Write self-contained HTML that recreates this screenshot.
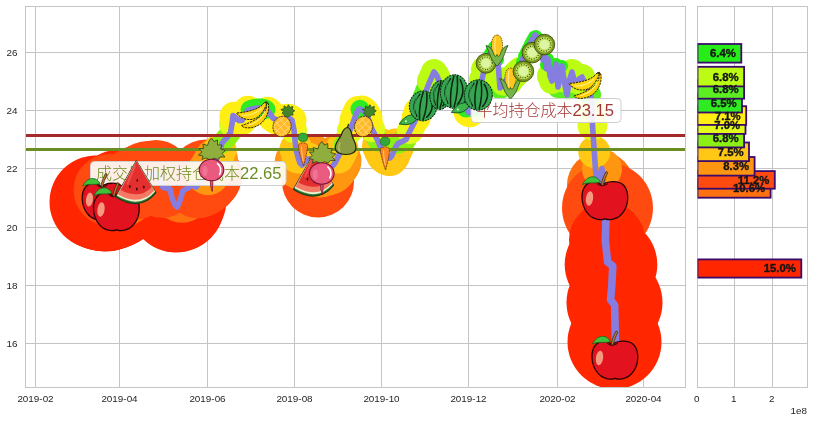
<!DOCTYPE html><html><head><meta charset="utf-8"><title>chart</title><style>html,body{margin:0;padding:0;background:#fff}svg{display:block}text{font-family:"Liberation Sans","Noto Sans CJK SC",sans-serif}</style></head><body>
<svg width="813" height="422" viewBox="0 0 813 422">
<rect width="813" height="422" fill="#fff"/>
<defs><clipPath id="ca"><rect x="25.5" y="6.5" width="660.0" height="381.0"/></clipPath></defs>
<path d="M35.5 6.5V387.5M119.5 6.5V387.5M207.5 6.5V387.5M294.5 6.5V387.5M381.5 6.5V387.5M468.5 6.5V387.5M557.5 6.5V387.5M643.5 6.5V387.5M25.5 343.5H685.5M25.5 285.5H685.5M25.5 227.5H685.5M25.5 168.5H685.5M25.5 110.5H685.5M25.5 52.5H685.5M734.5 6.5V387.5M772.5 6.5V387.5M697.5 343.5H807.5M697.5 285.5H807.5M697.5 227.5H807.5M697.5 168.5H807.5M697.5 110.5H807.5M697.5 52.5H807.5" stroke="#c4c4c4" stroke-width="1" fill="none" shape-rendering="crispEdges"/>
<g clip-path="url(#ca)">
<circle cx="96.0" cy="202.0" r="46.5" fill="#ff2600"/>
<circle cx="98.0" cy="203.0" r="46.5" fill="#ff2600"/>
<circle cx="100.0" cy="204.0" r="46.5" fill="#ff2600"/>
<circle cx="102.0" cy="204.3" r="46.5" fill="#ff2600"/>
<circle cx="104.0" cy="204.7" r="46.5" fill="#ff2600"/>
<circle cx="106.0" cy="205.0" r="46.5" fill="#ff2600"/>
<circle cx="108.0" cy="204.3" r="46.5" fill="#ff2600"/>
<circle cx="110.0" cy="203.7" r="46.5" fill="#ff2600"/>
<circle cx="112.0" cy="203.0" r="46.5" fill="#ff2600"/>
<circle cx="114.0" cy="202.2" r="46.5" fill="#ff2600"/>
<circle cx="116.0" cy="201.4" r="46.5" fill="#ff2600"/>
<circle cx="118.0" cy="199.3" r="46.5" fill="#ff2600"/>
<circle cx="120.0" cy="196.0" r="46.5" fill="#ff2600"/>
<circle cx="172.0" cy="198.0" r="46.5" fill="#ff2600"/>
<circle cx="174.0" cy="202.7" r="46.5" fill="#ff2600"/>
<circle cx="176.0" cy="206.0" r="46.5" fill="#ff2600"/>
<circle cx="178.0" cy="205.0" r="46.5" fill="#ff2600"/>
<circle cx="180.0" cy="200.0" r="46.5" fill="#ff2600"/>
<circle cx="611.0" cy="264.5" r="46.3" fill="#ff2600"/>
<circle cx="614.5" cy="302.5" r="48" fill="#ff2600"/>
<circle cx="614.5" cy="342.0" r="47" fill="#ff2600"/>
<circle cx="122.0" cy="194.0" r="33" fill="#ff7110"/>
<circle cx="124.0" cy="192.0" r="33" fill="#ff7110"/>
<circle cx="126.0" cy="190.2" r="33" fill="#ff7110"/>
<circle cx="128.0" cy="188.5" r="33" fill="#ff7110"/>
<circle cx="130.0" cy="186.8" r="33" fill="#ff7110"/>
<circle cx="132.0" cy="185.3" r="33" fill="#ff7110"/>
<circle cx="164.0" cy="187.7" r="29" fill="#ff7110"/>
<circle cx="166.0" cy="188.1" r="29" fill="#ff7110"/>
<circle cx="168.0" cy="188.6" r="29" fill="#ff7110"/>
<circle cx="170.0" cy="189.0" r="29" fill="#ff7110"/>
<circle cx="182.0" cy="193.8" r="29" fill="#ff7110"/>
<circle cx="184.0" cy="190.0" r="29" fill="#ff7110"/>
<circle cx="186.0" cy="189.0" r="29" fill="#ff7110"/>
<circle cx="188.0" cy="188.0" r="29" fill="#ff7110"/>
<circle cx="190.0" cy="186.5" r="29" fill="#ff7110"/>
<circle cx="192.0" cy="185.0" r="29" fill="#ff7110"/>
<circle cx="194.0" cy="186.0" r="29" fill="#ff7110"/>
<circle cx="196.0" cy="187.0" r="29" fill="#ff7110"/>
<circle cx="600.5" cy="185.0" r="33.5" fill="#ff7110"/>
<circle cx="114.0" cy="192.0" r="33" fill="#ff7110"/>
<circle cx="134.0" cy="184.0" r="36" fill="#ff4a10"/>
<circle cx="136.0" cy="182.7" r="36" fill="#ff4a10"/>
<circle cx="138.0" cy="181.6" r="36" fill="#ff4a10"/>
<circle cx="140.0" cy="180.7" r="36" fill="#ff4a10"/>
<circle cx="142.0" cy="179.9" r="36" fill="#ff4a10"/>
<circle cx="144.0" cy="179.0" r="36" fill="#ff4a10"/>
<circle cx="146.0" cy="178.0" r="36" fill="#ff4a10"/>
<circle cx="148.0" cy="177.0" r="36" fill="#ff4a10"/>
<circle cx="150.0" cy="176.0" r="34" fill="#ff4a10"/>
<circle cx="152.0" cy="175.3" r="34" fill="#ff4a10"/>
<circle cx="154.0" cy="174.7" r="34" fill="#ff4a10"/>
<circle cx="156.0" cy="174.0" r="34" fill="#ff4a10"/>
<circle cx="158.0" cy="176.4" r="34" fill="#ff4a10"/>
<circle cx="160.0" cy="178.8" r="34" fill="#ff4a10"/>
<circle cx="162.0" cy="183.8" r="34" fill="#ff4a10"/>
<circle cx="198.0" cy="184.3" r="34" fill="#ff4a10"/>
<circle cx="200.0" cy="182.0" r="34" fill="#ff4a10"/>
<circle cx="202.0" cy="180.0" r="36" fill="#ff4a10"/>
<circle cx="204.0" cy="178.0" r="36" fill="#ff4a10"/>
<circle cx="206.0" cy="175.6" r="36" fill="#ff4a10"/>
<circle cx="318.0" cy="181.5" r="36" fill="#ff4a10"/>
<circle cx="607.5" cy="208.0" r="45.5" fill="#ff4a10"/>
<circle cx="109.5" cy="190.0" r="36" fill="#ff4a10"/>
<circle cx="607.0" cy="240.0" r="38" fill="#ff2600"/>
<circle cx="208.0" cy="173.2" r="22" fill="#ff9612"/>
<circle cx="210.0" cy="170.5" r="22" fill="#ff9612"/>
<circle cx="212.0" cy="167.5" r="22" fill="#ff9612"/>
<circle cx="214.0" cy="164.0" r="22" fill="#ff9612"/>
<circle cx="216.0" cy="160.0" r="22" fill="#ff9612"/>
<circle cx="300.0" cy="163.0" r="25.5" fill="#ff9612"/>
<circle cx="302.0" cy="165.0" r="25.5" fill="#ff9612"/>
<circle cx="304.0" cy="163.0" r="25.5" fill="#ff9612"/>
<circle cx="306.0" cy="161.0" r="25.5" fill="#ff9612"/>
<circle cx="310.0" cy="159.5" r="25.5" fill="#ff9612"/>
<circle cx="312.0" cy="160.0" r="25.5" fill="#ff9612"/>
<circle cx="314.0" cy="164.0" r="25.5" fill="#ff9612"/>
<circle cx="316.0" cy="168.0" r="25.5" fill="#ff9612"/>
<circle cx="320.0" cy="172.0" r="25.5" fill="#ff9612"/>
<circle cx="322.0" cy="171.3" r="25.5" fill="#ff9612"/>
<circle cx="324.0" cy="170.7" r="25.5" fill="#ff9612"/>
<circle cx="326.0" cy="170.1" r="25.5" fill="#ff9612"/>
<circle cx="328.0" cy="169.6" r="25.5" fill="#ff9612"/>
<circle cx="330.0" cy="169.0" r="25.5" fill="#ff9612"/>
<circle cx="332.0" cy="166.6" r="25.5" fill="#ff9612"/>
<circle cx="334.0" cy="164.2" r="25.5" fill="#ff9612"/>
<circle cx="336.0" cy="161.0" r="25.5" fill="#ff9612"/>
<circle cx="602.0" cy="169.0" r="20" fill="#ff9612"/>
<circle cx="218.0" cy="155.3" r="16.5" fill="#ffc814"/>
<circle cx="220.0" cy="150.0" r="16.5" fill="#ffc814"/>
<circle cx="296.0" cy="149.0" r="16.5" fill="#ffc814"/>
<circle cx="298.0" cy="157.0" r="16.5" fill="#ffc814"/>
<circle cx="308.0" cy="159.0" r="16.5" fill="#ffc814"/>
<circle cx="338.0" cy="157.0" r="16.5" fill="#ffc814"/>
<circle cx="340.0" cy="153.0" r="16.5" fill="#ffc814"/>
<circle cx="342.0" cy="149.0" r="16.5" fill="#ffc814"/>
<circle cx="380.0" cy="146.0" r="18" fill="#ffc814"/>
<circle cx="382.0" cy="150.5" r="18" fill="#ffc814"/>
<circle cx="384.0" cy="154.5" r="18" fill="#ffc814"/>
<circle cx="386.0" cy="156.5" r="18" fill="#ffc814"/>
<circle cx="388.0" cy="157.7" r="18" fill="#ffc814"/>
<circle cx="390.0" cy="158.0" r="18" fill="#ffc814"/>
<circle cx="392.0" cy="155.5" r="18" fill="#ffc814"/>
<circle cx="394.0" cy="150.5" r="18" fill="#ffc814"/>
<circle cx="396.0" cy="146.5" r="18" fill="#ffc814"/>
<circle cx="594.3" cy="152.0" r="16" fill="#ffc814"/>
<circle cx="222.0" cy="143.0" r="10.5" fill="#8cf014"/>
<circle cx="224.0" cy="140.8" r="10.5" fill="#8cf014"/>
<circle cx="226.0" cy="138.6" r="10.5" fill="#8cf014"/>
<circle cx="228.0" cy="136.0" r="10.5" fill="#8cf014"/>
<circle cx="230.0" cy="133.4" r="10.5" fill="#8cf014"/>
<circle cx="344.0" cy="144.8" r="10.5" fill="#8cf014"/>
<circle cx="346.0" cy="140.2" r="10.5" fill="#8cf014"/>
<circle cx="348.0" cy="135.5" r="10.5" fill="#8cf014"/>
<circle cx="374.0" cy="133.0" r="10.5" fill="#8cf014"/>
<circle cx="376.0" cy="137.0" r="10.5" fill="#8cf014"/>
<circle cx="378.0" cy="141.0" r="10.5" fill="#8cf014"/>
<circle cx="398.0" cy="143.5" r="10.5" fill="#8cf014"/>
<circle cx="400.0" cy="142.5" r="10.5" fill="#8cf014"/>
<circle cx="402.0" cy="141.5" r="10.5" fill="#8cf014"/>
<circle cx="404.0" cy="140.5" r="10.5" fill="#8cf014"/>
<circle cx="406.0" cy="139.5" r="10.5" fill="#8cf014"/>
<circle cx="408.0" cy="135.2" r="10.5" fill="#8cf014"/>
<circle cx="232.0" cy="124.0" r="13" fill="#e2fb1c"/>
<circle cx="278.0" cy="121.0" r="13" fill="#e2fb1c"/>
<circle cx="294.0" cy="130.0" r="13" fill="#e2fb1c"/>
<circle cx="350.0" cy="130.5" r="13" fill="#e2fb1c"/>
<circle cx="352.0" cy="125.3" r="13" fill="#e2fb1c"/>
<circle cx="370.0" cy="123.5" r="13" fill="#e2fb1c"/>
<circle cx="372.0" cy="129.0" r="13" fill="#e2fb1c"/>
<circle cx="410.0" cy="131.0" r="13" fill="#e2fb1c"/>
<circle cx="412.0" cy="127.0" r="13" fill="#e2fb1c"/>
<circle cx="414.0" cy="123.0" r="13" fill="#e2fb1c"/>
<circle cx="592.5" cy="125.5" r="15" fill="#e2fb1c"/>
<circle cx="234.0" cy="116.3" r="14.5" fill="#ffee14"/>
<circle cx="236.0" cy="118.0" r="14.5" fill="#ffee14"/>
<circle cx="238.0" cy="119.7" r="14.5" fill="#ffee14"/>
<circle cx="240.0" cy="120.5" r="14.5" fill="#ffee14"/>
<circle cx="242.0" cy="120.5" r="14.5" fill="#ffee14"/>
<circle cx="244.0" cy="117.5" r="14.5" fill="#ffee14"/>
<circle cx="246.0" cy="113.8" r="14.5" fill="#ffee14"/>
<circle cx="248.0" cy="110.3" r="14.5" fill="#ffee14"/>
<circle cx="268.0" cy="111.3" r="14.5" fill="#ffee14"/>
<circle cx="270.0" cy="114.0" r="14.5" fill="#ffee14"/>
<circle cx="272.0" cy="116.7" r="14.5" fill="#ffee14"/>
<circle cx="274.0" cy="118.6" r="14.5" fill="#ffee14"/>
<circle cx="276.0" cy="119.8" r="14.5" fill="#ffee14"/>
<circle cx="280.0" cy="120.3" r="14.5" fill="#ffee14"/>
<circle cx="282.0" cy="119.7" r="14.5" fill="#ffee14"/>
<circle cx="284.0" cy="119.0" r="14.5" fill="#ffee14"/>
<circle cx="286.0" cy="118.6" r="14.5" fill="#ffee14"/>
<circle cx="288.0" cy="118.2" r="14.5" fill="#ffee14"/>
<circle cx="290.0" cy="118.7" r="14.5" fill="#ffee14"/>
<circle cx="292.0" cy="120.0" r="14.5" fill="#ffee14"/>
<circle cx="354.0" cy="120.0" r="14.5" fill="#ffee14"/>
<circle cx="356.0" cy="114.7" r="14.5" fill="#ffee14"/>
<circle cx="358.0" cy="110.5" r="14.5" fill="#ffee14"/>
<circle cx="362.0" cy="110.0" r="14.5" fill="#ffee14"/>
<circle cx="364.0" cy="111.3" r="14.5" fill="#ffee14"/>
<circle cx="366.0" cy="114.0" r="14.5" fill="#ffee14"/>
<circle cx="368.0" cy="118.0" r="14.5" fill="#ffee14"/>
<circle cx="416.0" cy="118.0" r="14.5" fill="#ffee14"/>
<circle cx="418.0" cy="112.0" r="14.5" fill="#ffee14"/>
<circle cx="468.0" cy="112.0" r="14.5" fill="#ffee14"/>
<circle cx="470.0" cy="112.7" r="14.5" fill="#ffee14"/>
<circle cx="472.0" cy="111.3" r="14.5" fill="#ffee14"/>
<circle cx="592.0" cy="111.0" r="14.5" fill="#ffee14"/>
<circle cx="250.0" cy="109.7" r="9.5" fill="#2fec22"/>
<circle cx="252.0" cy="109.0" r="9.5" fill="#2fec22"/>
<circle cx="254.0" cy="108.7" r="9.5" fill="#2fec22"/>
<circle cx="256.0" cy="108.3" r="9.5" fill="#2fec22"/>
<circle cx="258.0" cy="108.0" r="9.5" fill="#2fec22"/>
<circle cx="260.0" cy="108.0" r="9.5" fill="#2fec22"/>
<circle cx="262.0" cy="108.0" r="9.5" fill="#2fec22"/>
<circle cx="264.0" cy="108.5" r="9.5" fill="#2fec22"/>
<circle cx="266.0" cy="109.5" r="9.5" fill="#2fec22"/>
<circle cx="360.0" cy="109.3" r="9.5" fill="#2fec22"/>
<circle cx="420.0" cy="106.7" r="9.5" fill="#2fec22"/>
<circle cx="422.0" cy="101.5" r="9.5" fill="#2fec22"/>
<circle cx="454.0" cy="96.8" r="9.5" fill="#2fec22"/>
<circle cx="456.0" cy="98.4" r="9.5" fill="#2fec22"/>
<circle cx="458.0" cy="100.0" r="9.5" fill="#2fec22"/>
<circle cx="460.0" cy="99.5" r="9.5" fill="#2fec22"/>
<circle cx="462.0" cy="99.0" r="9.5" fill="#2fec22"/>
<circle cx="464.0" cy="103.7" r="9.5" fill="#2fec22"/>
<circle cx="466.0" cy="108.0" r="9.5" fill="#2fec22"/>
<circle cx="474.0" cy="108.0" r="9.5" fill="#2fec22"/>
<circle cx="476.0" cy="100.0" r="9.5" fill="#2fec22"/>
<circle cx="424.0" cy="96.3" r="11" fill="#5cee20"/>
<circle cx="426.0" cy="91.0" r="11" fill="#5cee20"/>
<circle cx="428.0" cy="86.0" r="11" fill="#5cee20"/>
<circle cx="440.0" cy="83.5" r="11" fill="#5cee20"/>
<circle cx="442.0" cy="87.5" r="11" fill="#5cee20"/>
<circle cx="444.0" cy="90.5" r="11" fill="#5cee20"/>
<circle cx="446.0" cy="91.5" r="11" fill="#5cee20"/>
<circle cx="448.0" cy="90.5" r="11" fill="#5cee20"/>
<circle cx="450.0" cy="91.5" r="11" fill="#5cee20"/>
<circle cx="452.0" cy="94.5" r="11" fill="#5cee20"/>
<circle cx="478.0" cy="93.0" r="11" fill="#5cee20"/>
<circle cx="480.0" cy="87.0" r="11" fill="#5cee20"/>
<circle cx="500.0" cy="88.0" r="11" fill="#5cee20"/>
<circle cx="502.0" cy="85.3" r="11" fill="#5cee20"/>
<circle cx="558.0" cy="87.0" r="11" fill="#5cee20"/>
<circle cx="566.0" cy="90.2" r="11" fill="#5cee20"/>
<circle cx="568.0" cy="89.0" r="11" fill="#5cee20"/>
<circle cx="576.0" cy="86.0" r="11" fill="#5cee20"/>
<circle cx="586.0" cy="86.0" r="11" fill="#5cee20"/>
<circle cx="588.0" cy="90.0" r="11" fill="#5cee20"/>
<circle cx="590.0" cy="94.7" r="11" fill="#5cee20"/>
<circle cx="430.0" cy="81.0" r="13" fill="#bcfb14"/>
<circle cx="432.0" cy="76.5" r="13" fill="#bcfb14"/>
<circle cx="434.0" cy="72.0" r="13" fill="#bcfb14"/>
<circle cx="436.0" cy="74.7" r="13" fill="#bcfb14"/>
<circle cx="438.0" cy="78.5" r="13" fill="#bcfb14"/>
<circle cx="482.0" cy="79.5" r="13" fill="#bcfb14"/>
<circle cx="484.0" cy="69.5" r="13" fill="#bcfb14"/>
<circle cx="504.0" cy="82.7" r="13" fill="#bcfb14"/>
<circle cx="506.0" cy="80.0" r="13" fill="#bcfb14"/>
<circle cx="508.0" cy="82.0" r="13" fill="#bcfb14"/>
<circle cx="510.0" cy="81.3" r="13" fill="#bcfb14"/>
<circle cx="512.0" cy="78.0" r="13" fill="#bcfb14"/>
<circle cx="514.0" cy="76.0" r="13" fill="#bcfb14"/>
<circle cx="516.0" cy="74.0" r="13" fill="#bcfb14"/>
<circle cx="518.0" cy="72.0" r="13" fill="#bcfb14"/>
<circle cx="520.0" cy="70.0" r="13" fill="#bcfb14"/>
<circle cx="550.0" cy="76.0" r="13" fill="#bcfb14"/>
<circle cx="552.0" cy="81.0" r="13" fill="#bcfb14"/>
<circle cx="554.0" cy="71.0" r="13" fill="#bcfb14"/>
<circle cx="560.0" cy="74.0" r="13" fill="#bcfb14"/>
<circle cx="564.0" cy="79.6" r="13" fill="#bcfb14"/>
<circle cx="570.0" cy="78.4" r="13" fill="#bcfb14"/>
<circle cx="572.0" cy="72.0" r="13" fill="#bcfb14"/>
<circle cx="574.0" cy="80.0" r="13" fill="#bcfb14"/>
<circle cx="578.0" cy="81.3" r="13" fill="#bcfb14"/>
<circle cx="580.0" cy="78.3" r="13" fill="#bcfb14"/>
<circle cx="582.0" cy="77.0" r="13" fill="#bcfb14"/>
<circle cx="584.0" cy="81.7" r="13" fill="#bcfb14"/>
<circle cx="486.0" cy="61.8" r="6" fill="#26ec18"/>
<circle cx="488.0" cy="57.2" r="6" fill="#26ec18"/>
<circle cx="490.0" cy="53.2" r="6" fill="#26ec18"/>
<circle cx="492.0" cy="49.8" r="6" fill="#26ec18"/>
<circle cx="494.0" cy="47.0" r="6" fill="#26ec18"/>
<circle cx="496.0" cy="45.0" r="6" fill="#26ec18"/>
<circle cx="498.0" cy="60.0" r="6" fill="#26ec18"/>
<circle cx="522.0" cy="62.0" r="6" fill="#26ec18"/>
<circle cx="524.0" cy="56.0" r="6" fill="#26ec18"/>
<circle cx="526.0" cy="52.0" r="6" fill="#26ec18"/>
<circle cx="528.0" cy="48.0" r="6" fill="#26ec18"/>
<circle cx="530.0" cy="44.0" r="6" fill="#26ec18"/>
<circle cx="532.0" cy="40.2" r="6" fill="#26ec18"/>
<circle cx="534.0" cy="36.8" r="6" fill="#26ec18"/>
<circle cx="536.0" cy="36.0" r="6" fill="#26ec18"/>
<circle cx="538.0" cy="38.0" r="6" fill="#26ec18"/>
<circle cx="540.0" cy="43.3" r="6" fill="#26ec18"/>
<circle cx="542.0" cy="53.0" r="6" fill="#26ec18"/>
<circle cx="544.0" cy="54.7" r="6" fill="#26ec18"/>
<circle cx="546.0" cy="64.8" r="6" fill="#26ec18"/>
<circle cx="548.0" cy="59.0" r="6" fill="#26ec18"/>
<circle cx="556.0" cy="64.0" r="6" fill="#26ec18"/>
<circle cx="562.0" cy="66.0" r="6" fill="#26ec18"/>
<path d="M96.0 202.0L100.0 204.0L106.0 205.0L112.0 203.0L117.0 201.0L120.0 196.0L125.0 191.0L131.0 186.0L137.0 182.0L144.0 179.0L150.0 176.0L156.0 174.0L161.0 180.0L163.0 187.5L170.0 189.0L172.0 198.0L175.0 205.0L177.0 207.0L179.0 203.0L181.0 197.0L183.0 190.5L188.0 188.0L192.0 185.0L196.0 187.0L199.0 183.0L204.0 178.0L209.0 172.0L213.0 166.0L217.0 158.0L220.0 150.0L222.0 143.0L226.5 138.0L230.5 132.7L232.0 124.0L233.0 115.5L236.0 118.0L239.0 120.5L242.0 120.5L245.0 116.0L247.5 110.5L252.0 109.0L258.0 108.0L263.0 108.0L267.0 110.0L270.0 114.0L273.0 118.0L278.0 121.0L284.0 119.0L289.0 118.0L292.0 120.0L294.0 130.0L295.0 140.0L296.0 149.0L298.0 157.0L300.0 163.0L302.0 165.0L305.0 162.0L308.0 159.0L312.0 160.0L316.0 168.0L318.0 181.5L320.0 172.0L323.0 171.0L330.0 169.0L335.0 163.0L339.0 155.0L343.0 147.0L347.0 138.0L351.0 128.0L354.0 120.0L357.0 112.0L359.0 109.0L362.0 110.0L365.0 112.0L368.0 118.0L372.0 129.0L375.0 135.0L378.0 141.0L381.0 148.5L384.0 154.5L387.0 157.5L390.0 158.0L392.0 155.5L394.0 150.5L396.0 146.5L398.0 143.5L402.0 141.5L406.0 139.5L409.0 133.0L412.0 127.0L415.0 121.0L418.0 112.0L421.0 104.0L423.0 99.0L426.0 91.0L430.0 81.0L434.0 72.0L437.0 76.0L441.0 86.0L445.0 92.0L449.0 90.0L453.0 96.0L458.0 100.0L462.0 99.0L465.0 106.0L468.0 112.0L471.0 113.0L474.0 108.0L476.0 100.0L478.0 93.0L481.0 84.0L483.0 75.0L485.0 64.0L489.0 55.0L493.0 48.0L496.0 45.0L498.0 60.0L499.0 75.0L500.0 88.0L503.0 84.0L506.0 80.0L509.0 83.0L512.0 78.0L516.0 74.0L520.0 70.0L523.0 58.0L527.0 50.0L531.0 42.0L535.0 35.0L538.0 38.0L541.0 46.0L543.0 60.0L544.5 52.0L546.5 69.0L548.0 59.0L550.0 76.0L552.0 81.0L554.0 71.0L556.0 64.0L558.0 87.0L560.0 74.0L562.0 66.0L564.5 83.0L567.0 95.0L569.5 80.0L572.0 72.0L574.0 80.0L576.0 86.0L579.0 79.0L582.0 77.0L585.0 84.0L588.0 90.0L591.0 97.0L592.0 111.0L592.5 125.5L594.3 152.0L595.5 170.0L597.0 185.0L599.5 178.0L602.0 168.5L604.0 190.0L606.0 218.0L605.3 240.0L607.6 262.0L612.8 266.0L611.8 285.0L610.6 300.0L614.6 305.0L615.3 334.0L615.5 345.0" stroke="#867de0" stroke-width="5.6" fill="none" stroke-linejoin="round" stroke-linecap="round"/>
<path d="M606.0 218.0L605.3 240.0L607.6 262.0L612.8 266.0L611.8 285.0L610.6 300.0L614.6 305.0L615.3 334.0L615.5 345.0" stroke="#867de0" stroke-width="7.6" fill="none" stroke-linejoin="round" stroke-linecap="round"/>
<path d="M25.5 135.5H685.5" stroke="#a42a2a" stroke-width="2.9"/>
<path d="M25.5 149.5H685.5" stroke="#6b8e23" stroke-width="2.9"/>
</g>
<rect x="25.5" y="6.5" width="660.0" height="381.0" fill="none" stroke="#c4c4c4" stroke-width="1" shape-rendering="crispEdges"/>
<rect x="697.5" y="6.5" width="110.0" height="381.0" fill="none" stroke="#c4c4c4" stroke-width="1" shape-rendering="crispEdges"/>
<g font-size="9.9" fill="#262626">
<text x="35.5" y="402" text-anchor="middle">2019-02</text>
<text x="119.5" y="402" text-anchor="middle">2019-04</text>
<text x="207.5" y="402" text-anchor="middle">2019-06</text>
<text x="294.5" y="402" text-anchor="middle">2019-08</text>
<text x="381.5" y="402" text-anchor="middle">2019-10</text>
<text x="468.5" y="402" text-anchor="middle">2019-12</text>
<text x="557.5" y="402" text-anchor="middle">2020-02</text>
<text x="643.5" y="402" text-anchor="middle">2020-04</text>
<text x="17.6" y="346.5" text-anchor="end">16</text>
<text x="17.6" y="288.5" text-anchor="end">18</text>
<text x="17.6" y="230.5" text-anchor="end">20</text>
<text x="17.6" y="171.5" text-anchor="end">22</text>
<text x="17.6" y="113.5" text-anchor="end">24</text>
<text x="17.6" y="55.5" text-anchor="end">26</text>
<text x="696.7" y="402" text-anchor="middle">0</text>
<text x="733.7" y="402" text-anchor="middle">1</text>
<text x="771.7" y="402" text-anchor="middle">2</text>
<text x="807" y="414" text-anchor="end">1e8</text>
</g>
<!--FRUITS_BELOW-->
<rect x="90.5" y="161.5" width="195.5" height="24.0" rx="4" ry="4" fill="#fff" fill-opacity="0.9" stroke="#cfcfcf" stroke-width="1"/>
<text x="96" y="179.1" font-size="16" font-weight="300" fill="#6b8e23">成交量加权持仓成本<tspan font-size="16.6" font-weight="400">22.65</tspan></text>
<rect x="471" y="98.5" width="150" height="24.0" rx="4" ry="4" fill="#fff" fill-opacity="0.9" stroke="#cfcfcf" stroke-width="1"/>
<text x="476.4" y="116.1" font-size="16" font-weight="300" fill="#a43636">平均持仓成本<tspan font-size="16.6" font-weight="400">23.15</tspan></text>
<defs><g id="apple">
<path d="M-3,-15 C1,-19.5 13,-20.5 18.5,-15.5 C24.5,-9 24,4 18,12 C14,18 6,20.5 0,18.3 C-6,20.5 -14,18 -18,12 C-24,4 -25,-9 -19,-15.5 C-14,-20.5 -7,-19.5 -3,-15Z" fill="#e3121f" stroke="#2a0404" stroke-width="1.3"/>
<path d="M-8,-17 C-5,-14.2 -1,-14.2 3,-17" fill="none" stroke="#2a0404" stroke-width="1"/>
<path d="M-3.8,-15.5 C-3,-21 -1,-25 1,-29 L2.8,-28 C1,-24 -1,-20 -1.8,-14.8Z" fill="#b07a34" stroke="#3a2208" stroke-width="0.7"/>
<path d="M-4.5,-18.5 C-9,-26.5 -18,-25 -22.5,-16 C-16,-19 -10,-16.5 -4.5,-18.5Z" fill="#3fc23a" stroke="#1c5c1c" stroke-width="0.8"/>
<ellipse cx="-15.5" cy="-2" rx="3.6" ry="7.2" transform="rotate(8 -15.5 -2)" fill="#f59a80"/>
</g><g id="slice">
<path d="M0,-21.5 L19.5,10.5 Q4,29.5 -20.5,14.5 Z" fill="#2e7d32" stroke="#1b3d1b" stroke-width="1.2" stroke-linejoin="round"/>
<path d="M0,-21.5 L18.8,9.2 Q4,27 -19.6,13.2 Z" fill="#eef0cf"/>
<path d="M0,-21.5 L18,8 Q4,24.5 -18.6,11.8 Z" fill="#f47a66"/>
<path d="M0,-21 L15.5,4.5 Q3.5,17.5 -15.5,7.5 Z" fill="#e42f2f"/>
<path d="M-1,-17 L-9,2" stroke="#f0605a" stroke-width="2" fill="none" opacity="0.7"/>
<g fill="#3a0a0a"><ellipse cx="-6.5" cy="4" rx="0.9" ry="1.5"/><ellipse cx="0.5" cy="6.5" rx="0.9" ry="1.5"/><ellipse cx="7.5" cy="4.5" rx="0.9" ry="1.5"/><ellipse cx="1" cy="-2" rx="0.8" ry="1.3"/></g>
</g><g id="radish">
<path d="M0.5,14 C1.5,19 0,23 0.3,26.5 C-1.2,23 -2,19 -1.5,14Z" fill="#e8557a" stroke="#7a1030" stroke-width="0.8"/>
<path d="M-1,-5 L-6,-7 L-10,-5.5 L-9,-9 L-13.5,-10 L-10,-13 L-13,-16.5 L-8.5,-16.5 L-9,-21 L-4.5,-19.5 L-3,-24 L-0.5,-27 L2,-23.5 L5.5,-25 L5.5,-20 L10,-20 L8.5,-16 L13.5,-14.5 L10,-11.5 L13,-8 L8,-8 L6,-5.5 L2,-7 Z" fill="#8fae3e" stroke="#3c4f12" stroke-width="0.9" stroke-linejoin="round"/>
<ellipse cx="-0.5" cy="5" rx="12.3" ry="10.8" fill="#ea5a7e" stroke="#7a1030" stroke-width="1.1"/>
<path d="M5.5,-1.5 C9,1 9.5,6 7.5,9.5" fill="none" stroke="#fff" stroke-width="1.6" stroke-linecap="round"/>
<ellipse cx="-7" cy="6" rx="2.5" ry="5" fill="#f07f9c" opacity="0.7"/>
</g><g id="banana">
<path d="M14.5,-11.5 C15.5,-4 10,4 -10.5,10.5 C-8,14.5 4,13.5 10,7.5 C15.5,2 17.5,-5 16.3,-11.5 Z" fill="#ffd000" stroke="#2a2000" stroke-width="1" stroke-dasharray="2.2 0.9" stroke-linejoin="round"/>
<path d="M12.5,-12.5 C8,-6 -3,-3 -15.5,-2 C-12,3.5 -2,7 5,2.5 C10,-1 13.5,-7 14.8,-11.8 Z" fill="#ffd60a" stroke="#2a2000" stroke-width="1" stroke-dasharray="2.2 0.9" stroke-linejoin="round"/>
<path d="M12.3,-13 L15,-13.8 L16.5,-11.3 L14.6,-11.2Z" fill="#3a3000"/>
<path d="M-10,0.3 C-3,1 4,-1.5 9.5,-6.5" fill="none" stroke="#ffee80" stroke-width="1.1"/>
<path d="M-4,10.3 C4,8.3 10,3 13.3,-4" fill="none" stroke="#ffee80" stroke-width="1.1"/>
</g><g id="pine">
<path d="M3.2,-5.7 L0.0,-8.9 L1.6,-10.5 L-1.2,-12.5 L2.0,-13.3 L2.0,-16.1 L4.8,-14.5 L6.4,-17.3 L8.0,-14.5 L10.8,-15.7 L10.4,-12.5 L12.8,-11.3 L10.4,-9.3 L11.2,-6.9 L8.0,-6.9 L6.4,-4.9Z" fill="#44852a" stroke="#2c5218" stroke-width="0.8" stroke-linejoin="round"/>
<ellipse cx="0" cy="4.5" rx="9" ry="10.3" transform="rotate(14 0 4.5)" fill="#ffba2a" stroke="#4a3000" stroke-width="0.9" stroke-dasharray="2 0.8"/>
<g stroke="#ffe28a" stroke-width="0.8" fill="none"><path d="M-6,0 L4,12"/><path d="M-3,-4 L8,8"/><path d="M-8,5 L-1,13"/><path d="M6,-2 L-6,10"/><path d="M2,-5 L-8,4"/><path d="M8,4 L0,13"/></g>
</g><g id="carrot">
<path d="M-0.5,-9 C-4,-9 -5.5,-12 -4.5,-14.5 C-4,-17 -1,-18 1,-17 C4,-17.5 5.5,-14.5 4.5,-12 C4.5,-10 2,-8.5 -0.5,-9Z" fill="#35a83a" stroke="#1e6a22" stroke-width="0.7"/>
<path d="M-4.6,-5 C-4,-8.5 4,-8.5 4.6,-5 C4,3 2,10 0.6,15.5 C-1.5,10 -4,2 -4.6,-5Z" fill="#ff8a1f" stroke="#7a3a00" stroke-width="0.9" stroke-dasharray="2.2 0.8"/>
<path d="M-1.5,-4 C-1.5,2 -0.5,7 0.3,11" fill="none" stroke="#ffc070" stroke-width="1.1"/>
</g><g id="pear">
<path d="M1.5,-11 L3,-15.5" stroke="#3a3a10" stroke-width="1.6" stroke-linecap="round"/>
<path d="M2,-12.5 C5.5,-12 6,-7 6.8,-3.5 C8,0 10.5,3 10.5,7.5 C10.5,12.5 6,14.5 0.5,14.5 C-5.5,14.5 -10.5,12.5 -10.2,7 C-10,2.5 -6.5,-0.5 -4.5,-4.5 C-3,-8 -2,-12.5 2,-12.5Z" fill="#8c9c42" stroke="#1e2408" stroke-width="1.2"/>
<path d="M-5.5,3 C-7,6 -7,9 -5.5,11" fill="none" stroke="#b2c068" stroke-width="1.4" stroke-linecap="round"/>
</g><g id="kiwi">
<circle r="10.3" fill="#7b9a20" stroke="#3d4a0c" stroke-width="0.9"/>
<circle r="7.9" fill="#bfe05e"/>
<circle r="6.6" fill="none" stroke="#2c3408" stroke-width="1.1" stroke-dasharray="0.9 1.7"/>
<circle r="4.9" fill="#dcf5a2"/>
</g><g id="corn">
<path d="M0,-15.5 C4.5,-15.5 5.8,-9 5.5,-3 C5.2,3 3,7 0,8 C-3,7 -5.2,3 -5.5,-3 C-5.8,-9 -4.5,-15.5 0,-15.5Z" fill="#ffc61e" stroke="#6a4a00" stroke-width="0.8" stroke-dasharray="1.6 0.8"/>
<path d="M-1.5,-13 C-2.5,-8 -2.5,-2 -1.5,3" fill="none" stroke="#ffe680" stroke-width="1.3"/>
<path d="M-11,-5 C-7,-4 -4.5,-1 -3.5,3 C-2.5,6 -1,7 0,4 C1,7 2.5,6 3.5,3 C4.5,-1 7,-4 11,-5 C9,-1 8,2 6.5,6 C5,10 2.5,13 0,15.5 C-2.5,13 -5,10 -6.5,6 C-8,2 -9,-1 -11,-5Z" fill="#78b44a" stroke="#2f5a20" stroke-width="0.9" stroke-linejoin="round"/>
</g></defs>
<use href="#apple" transform="translate(104.5,201.5) scale(0.97)"/>
<use href="#apple" transform="translate(116.5,211.5)"/>
<use href="#slice" transform="translate(136.3,182.4)"/>
<use href="#radish" transform="translate(212,165)"/>
<use href="#banana" transform="translate(252,115)"/>
<use href="#pine" transform="translate(282,122)"/>
<use href="#carrot" transform="translate(303,150.5)"/>
<use href="#slice" transform="translate(314,174.9)"/>
<use href="#radish" transform="translate(322.3,168.5)"/>
<use href="#pear" transform="translate(345.5,140)"/>
<use href="#pine" transform="translate(363.5,122)"/>
<use href="#carrot" transform="translate(385,154.5)"/>
<path d="M399.2,124.0 Q414.1,127.3 418.4,116.0 Q407.4,111.1 399.2,124.0Z" fill="#3cb54a" stroke="#14501e" stroke-width="0.9"/><circle cx="405.9" cy="121.2" r="1" fill="#eaffd0"/>
<g transform="translate(423.2,105.9) rotate(8)"><ellipse rx="13.8" ry="15" fill="#35a551" stroke="#0d2a10" stroke-width="1" stroke-dasharray="2 0.8"/><path d="M-4.7,-11.4 Q-13.3,0 -4.7,11.4" fill="none" stroke="#0c2410" stroke-width="1.5"/><path d="M-1.7,-14.2 Q-4.7,0 -1.7,14.2" fill="none" stroke="#0c2410" stroke-width="1.5"/><path d="M1.7,-14.2 Q4.7,0 1.7,14.2" fill="none" stroke="#0c2410" stroke-width="1.5"/><path d="M4.7,-11.4 Q13.3,0 4.7,11.4" fill="none" stroke="#0c2410" stroke-width="1.5"/><path d="M-6.2,-11.2 Q-11.0,0 -6.2,11.2" fill="none" stroke="#5fd07a" stroke-width="1" opacity="0.6"/></g>
<g transform="translate(440.5,95) rotate(8)"><ellipse rx="10.5" ry="14.5" fill="#35a551" stroke="#0d2a10" stroke-width="1" stroke-dasharray="2 0.8"/><path d="M-3.6,-11.0 Q-10.1,0 -3.6,11.0" fill="none" stroke="#0c2410" stroke-width="1.5"/><path d="M-1.3,-13.7 Q-3.6,0 -1.3,13.7" fill="none" stroke="#0c2410" stroke-width="1.5"/><path d="M1.3,-13.7 Q3.6,0 1.3,13.7" fill="none" stroke="#0c2410" stroke-width="1.5"/><path d="M3.6,-11.0 Q10.1,0 3.6,11.0" fill="none" stroke="#0c2410" stroke-width="1.5"/><path d="M-4.7,-10.9 Q-8.4,0 -4.7,10.9" fill="none" stroke="#5fd07a" stroke-width="1" opacity="0.6"/></g>
<g transform="translate(454,91.5) rotate(6)"><ellipse rx="13.6" ry="16.8" fill="#35a551" stroke="#0d2a10" stroke-width="1" stroke-dasharray="2 0.8"/><path d="M-4.6,-12.8 Q-13.1,0 -4.6,12.8" fill="none" stroke="#0c2410" stroke-width="1.5"/><path d="M-1.6,-15.9 Q-4.6,0 -1.6,15.9" fill="none" stroke="#0c2410" stroke-width="1.5"/><path d="M1.6,-15.9 Q4.6,0 1.6,15.9" fill="none" stroke="#0c2410" stroke-width="1.5"/><path d="M4.6,-12.8 Q13.1,0 4.6,12.8" fill="none" stroke="#0c2410" stroke-width="1.5"/><path d="M-6.1,-12.6 Q-10.9,0 -6.1,12.6" fill="none" stroke="#5fd07a" stroke-width="1" opacity="0.6"/></g>
<path d="M451.4,112.5 Q466.2,115.1 470.0,103.8 Q458.9,99.5 451.4,112.5Z" fill="#3cb54a" stroke="#14501e" stroke-width="0.9"/><circle cx="457.9" cy="109.5" r="1" fill="#eaffd0"/>
<g transform="translate(478.3,95) rotate(4)"><ellipse rx="14" ry="15.2" fill="#35a551" stroke="#0d2a10" stroke-width="1" stroke-dasharray="2 0.8"/><path d="M-4.8,-11.6 Q-13.5,0 -4.8,11.6" fill="none" stroke="#0c2410" stroke-width="1.5"/><path d="M-1.7,-14.4 Q-4.8,0 -1.7,14.4" fill="none" stroke="#0c2410" stroke-width="1.5"/><path d="M1.7,-14.4 Q4.8,0 1.7,14.4" fill="none" stroke="#0c2410" stroke-width="1.5"/><path d="M4.8,-11.6 Q13.5,0 4.8,11.6" fill="none" stroke="#0c2410" stroke-width="1.5"/><path d="M-6.3,-11.4 Q-11.2,0 -6.3,11.4" fill="none" stroke="#5fd07a" stroke-width="1" opacity="0.6"/></g>
<use href="#kiwi" transform="translate(486,63.3) scale(0.96)"/>
<use href="#corn" transform="translate(497,50.5)"/>
<use href="#corn" transform="translate(510.5,83.5)"/>
<use href="#kiwi" transform="translate(523.4,71.3)"/>
<use href="#kiwi" transform="translate(532.3,52.6)"/>
<use href="#kiwi" transform="translate(544.4,44.6)"/>
<use href="#banana" transform="translate(584.5,85.5)"/>
<use href="#apple" transform="translate(605,200.5)"/>
<use href="#apple" transform="translate(615,360)"/>
<clipPath id="cb"><rect x="697.5" y="6.5" width="110.0" height="381.0"/></clipPath>
<g clip-path="url(#cb)" font-size="10.4" font-weight="bold" text-anchor="end">
<rect x="697.5" y="259.4" width="103.8" height="18.2" fill="#ff2600" stroke="#3b0a6b" stroke-width="1.8"/>
<rect x="697.5" y="179.1" width="73.1" height="18.6" fill="#ff7110" stroke="#3b0a6b" stroke-width="1.8"/>
<rect x="697.5" y="171.1" width="77.3" height="17.6" fill="#ff4a10" stroke="#3b0a6b" stroke-width="1.8"/>
<rect x="697.5" y="157.0" width="57.1" height="18.6" fill="#ff9612" stroke="#3b0a6b" stroke-width="1.8"/>
<rect x="697.5" y="142.5" width="51.5" height="18.6" fill="#ffc814" stroke="#3b0a6b" stroke-width="1.8"/>
<rect x="697.5" y="128.8" width="46.6" height="18.6" fill="#8cf014" stroke="#3b0a6b" stroke-width="1.8"/>
<rect x="697.5" y="115.3" width="48.0" height="18.6" fill="#e2fb1c" stroke="#3b0a6b" stroke-width="1.8"/>
<rect x="697.5" y="106.2" width="48.7" height="18.7" fill="#ffee14" stroke="#3b0a6b" stroke-width="1.8"/>
<rect x="697.5" y="93.9" width="44.5" height="18.6" fill="#2fec22" stroke="#3b0a6b" stroke-width="1.8"/>
<rect x="697.5" y="80.1" width="46.6" height="18.6" fill="#5cee20" stroke="#3b0a6b" stroke-width="1.8"/>
<rect x="697.5" y="66.8" width="46.6" height="19.6" fill="#bcfb14" stroke="#3b0a6b" stroke-width="1.8"/>
<rect x="697.5" y="44.0" width="43.8" height="18.6" fill="#26ec18" stroke="#3b0a6b" stroke-width="1.8"/>
<text transform="translate(795.8,272.4) scale(1.09,1)" fill="#151515" stroke="#151515" stroke-width="0.35">15.0%</text>
<text transform="translate(765.1,192.3) scale(1.09,1)" fill="#151515" stroke="#151515" stroke-width="0.35">10.6%</text>
<text transform="translate(769.3,183.8) scale(1.09,1)" fill="#151515" stroke="#151515" stroke-width="0.35">11.2%</text>
<text transform="translate(749.1,170.2) scale(1.09,1)" fill="#151515" stroke="#151515" stroke-width="0.35">8.3%</text>
<text transform="translate(743.5,155.7) scale(1.09,1)" fill="#151515" stroke="#151515" stroke-width="0.35">7.5%</text>
<text transform="translate(738.6,142.0) scale(1.09,1)" fill="#151515" stroke="#151515" stroke-width="0.35">6.8%</text>
<text transform="translate(740.0,128.5) scale(1.09,1)" fill="#151515" stroke="#151515" stroke-width="0.35">7.0%</text>
<text transform="translate(740.7,119.5) scale(1.09,1)" fill="#151515" stroke="#151515" stroke-width="0.35">7.1%</text>
<text transform="translate(736.5,107.1) scale(1.09,1)" fill="#151515" stroke="#151515" stroke-width="0.35">6.5%</text>
<text transform="translate(738.6,93.3) scale(1.09,1)" fill="#151515" stroke="#151515" stroke-width="0.35">6.8%</text>
<text transform="translate(738.6,80.5) scale(1.09,1)" fill="#151515" stroke="#151515" stroke-width="0.35">6.8%</text>
<text transform="translate(735.8,57.2) scale(1.09,1)" fill="#151515" stroke="#151515" stroke-width="0.35">6.4%</text>
</g>
</svg></body></html>
